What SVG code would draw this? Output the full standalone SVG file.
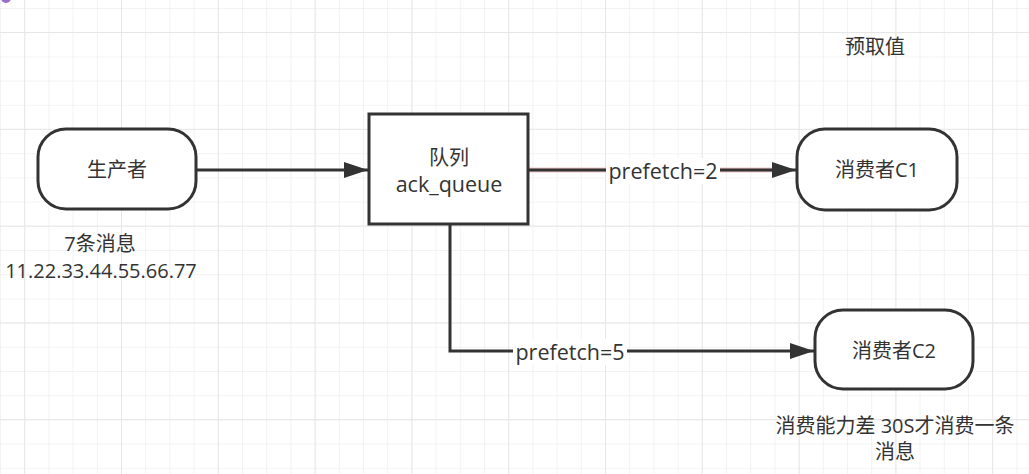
<svg xmlns="http://www.w3.org/2000/svg" width="1029" height="474" viewBox="0 0 1029 474">
  <defs>
    <pattern id="minor" width="24.2" height="24.2" patternUnits="userSpaceOnUse" x="0" y="8">
      <path d="M0 0 H24.2 M0 0 V24.2" fill="none" stroke="#efefef" stroke-width="1.5"/>
    </pattern>
    <pattern id="major" width="96.8" height="96.8" patternUnits="userSpaceOnUse" x="24.2" y="32">
      <path d="M0 0 H96.8 M0 0 V96.8" fill="none" stroke="#e6e6e6" stroke-width="1.8"/>
    </pattern>
    <marker id="arrow" viewBox="0 0 24 16" refX="24" refY="8" markerWidth="24" markerHeight="16" markerUnits="userSpaceOnUse" orient="auto">
      <path d="M0 0 L24 8 L0 16 Z" fill="#333333"/>
    </marker>
    <style>
      .node { fill: #ffffff; stroke: #333333; stroke-width: 3; }
      .edge { fill: none; stroke: #333333; stroke-width: 3; }
      .label { font-family: "Open Sans", "Noto Sans CJK SC", sans-serif; font-size: 20px; fill: #333333; text-anchor: middle; dominant-baseline: central; }
      .latin { font-size: 21.5px; }
      .bg { fill: #ffffff; }
    </style>
  </defs>

  <!-- canvas grid -->
  <rect width="1029" height="474" fill="#ffffff"/>
  <rect width="1029" height="474" fill="url(#minor)"/>
  <rect width="1029" height="474" fill="url(#major)"/>
  <circle cx="6" cy="-2" r="5" fill="#9b6bc9"/>

  <!-- connectors -->
  <g id="connectors">
    <line class="edge" x1="196" y1="170" x2="368" y2="170" marker-end="url(#arrow)"/>
    <line x1="528" y1="170" x2="780" y2="170" stroke="#edc9cb" stroke-width="5"/>
    <line class="edge" x1="528" y1="170" x2="796" y2="170" marker-end="url(#arrow)"/>
    <rect class="bg" x="606" y="158" width="114" height="26"/>
    <text class="label latin" x="663" y="170">prefetch=2</text>
    <path class="edge" d="M450 224 V351 H814" marker-end="url(#arrow)"/>
    <rect class="bg" x="513" y="339" width="114" height="26"/>
    <text class="label latin" x="570" y="351">prefetch=5</text>
  </g>

  <g id="producer">
    <rect class="node" x="38" y="129" width="158" height="80" rx="28" ry="28"/>
    <text class="label" x="117" y="169">生产者</text>
  </g>

  <g id="queue">
    <rect class="node" x="369" y="114" width="159" height="110"/>
    <text class="label" x="449" y="157">队列</text>
    <text class="label latin" x="449" y="183">ack_queue</text>
  </g>

  <g id="consumer-c1">
    <rect class="node" x="797" y="129" width="160" height="81" rx="28" ry="28"/>
    <text class="label" x="877" y="169">消费者C1</text>
  </g>

  <g id="consumer-c2">
    <rect class="node" x="815" y="310" width="158" height="79" rx="28" ry="28"/>
    <text class="label" x="894" y="350">消费者C2</text>
  </g>

  <g id="notes">
    <text class="label" x="100" y="243">7条消息</text>
    <text class="label" x="101" y="270">11.22.33.44.55.66.77</text>
    <text class="label" x="875" y="46">预取值</text>
    <text class="label" x="895" y="425">消费能力差 30S才消费一条</text>
    <text class="label" x="895" y="451">消息</text>
  </g>
</svg>
